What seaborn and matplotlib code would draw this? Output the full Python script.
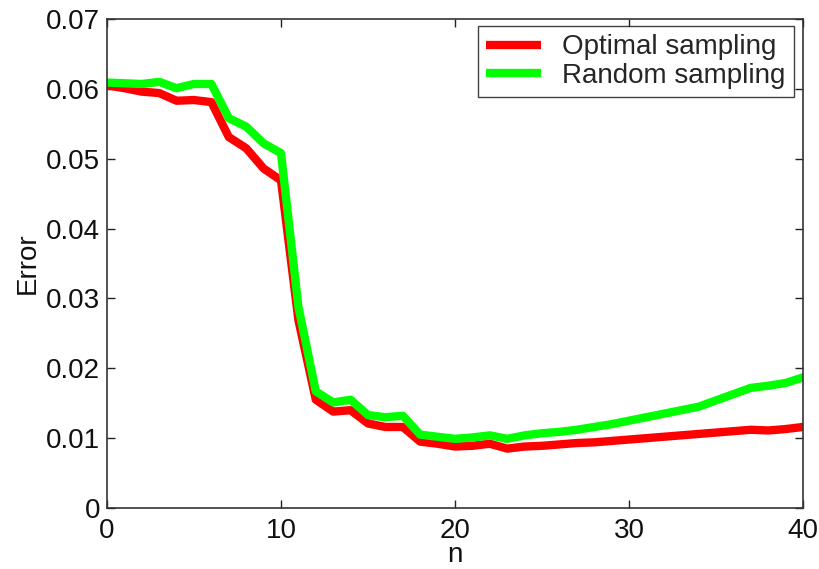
import matplotlib
matplotlib.use("Agg")
import matplotlib.pyplot as plt
import seaborn as sns
import pandas as pd
import numpy as np

n_values = list(range(41))
optimal = [0.0605, 0.0601, 0.0596, 0.0594, 0.0583, 0.0584, 0.0581, 0.0531, 0.0515, 0.0486,
           0.0469, 0.0269, 0.0155, 0.0138, 0.0140, 0.0121, 0.0116, 0.0116, 0.0095, 0.0092,
           0.0088, 0.0089, 0.0092, 0.0085, 0.0088, 0.0089, 0.0091, 0.0093, 0.0094, 0.0096,
           0.0098, 0.0100, 0.0102, 0.0104, 0.0106, 0.0108, 0.0110, 0.0112, 0.0111, 0.0113, 0.0116]
random_s = [0.0609, 0.0608, 0.0607, 0.0610, 0.0601, 0.0607, 0.0607, 0.0558, 0.0546, 0.0522,
            0.0508, 0.0288, 0.0167, 0.0151, 0.0155, 0.0133, 0.0130, 0.0132, 0.0105, 0.0102,
            0.0099, 0.0101, 0.0104, 0.0099, 0.0104, 0.0107, 0.0109, 0.0112, 0.0116, 0.0120,
            0.0125, 0.0130, 0.0135, 0.0140, 0.0145, 0.0154, 0.0163, 0.0172, 0.0175, 0.0179, 0.0187]
series_names = ["Optimal sampling", "Random sampling"]
colors = ["#ff0000", "#00ff00"]

df = pd.DataFrame({
    "n": n_values * 2,
    "Error": optimal + random_s,
    "series": [series_names[0]] * len(n_values) + [series_names[1]] * len(n_values),
})

sns.set_style("white")
plt.rcParams['font.family'] = ['Liberation Sans', 'DejaVu Sans']
FS = 20

fig = plt.figure(figsize=(8.19, 5.69), dpi=100)
ax = fig.add_axes([107/819, 1 - 508/569, (803 - 107)/819, (508 - 19)/569])

sns.lineplot(data=df, x="n", y="Error", hue="series", palette=dict(zip(series_names, colors)),
             linewidth=6, ax=ax)

ax.set_xlim(0, 40)
ax.set_ylim(0, 0.07)
ax.set_xticks([0, 10, 20, 30, 40])
ax.set_yticks([0, 0.01, 0.02, 0.03, 0.04, 0.05, 0.06, 0.07])
ax.set_yticklabels(["0", "0.01", "0.02", "0.03", "0.04", "0.05", "0.06", "0.07"])
ax.tick_params(direction="in", length=6, width=1, colors="#222222", labelsize=FS,
               top=True, right=True, left=True, bottom=True, pad=5, labelcolor="#111111")
ax.tick_params(axis="x", pad=7)
for s in ax.spines.values():
    s.set_visible(True)
    s.set_color("#333333")
    s.set_linewidth(1.2)
ax.set_xlabel("n", fontsize=FS, color="#111111", va="bottom")
ax.xaxis.set_label_coords(0.5, (508 - 568) / 489)
ax.set_ylabel("Error", fontsize=FS, labelpad=4, color="#111111")

leg = ax.legend(loc="upper right", fontsize=FS, frameon=True, fancybox=False,
                edgecolor="#111111", borderpad=0.3, handlelength=2.0, handletextpad=0.75,
                labelspacing=0.08, borderaxespad=0, bbox_to_anchor=(1 - 9/696, 1 - 7/489))
leg.get_frame().set_linewidth(1.0)
for line in leg.get_lines():
    line.set_linewidth(6)
    line.set_solid_capstyle("butt")

fig.savefig("out.png", dpi=100, facecolor="white")
